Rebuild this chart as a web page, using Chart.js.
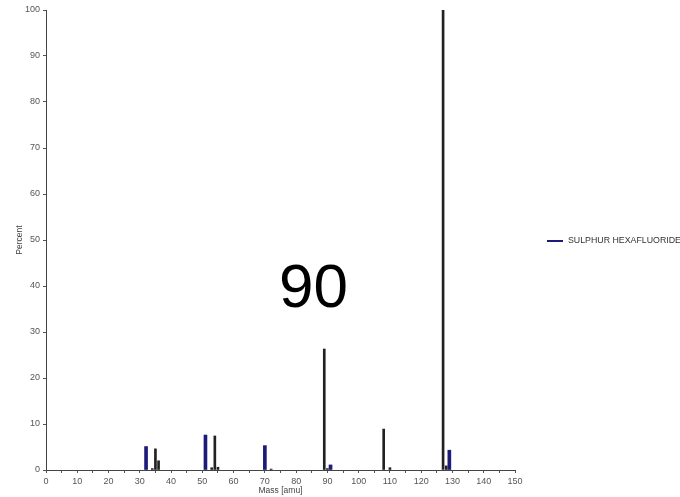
<!DOCTYPE html>
<html>
<head>
<meta charset="utf-8">
<script src="https://cdn.jsdelivr.net/npm/chart.js@4/dist/chart.umd.min.js"></script>
<style>
  html, body { margin: 0; padding: 0; background: #fff; }
  #wrap { position: relative; width: 680px; height: 497px; }
  #legend { position: absolute; left: 547px; top: 235px; font: 8.8px "Liberation Sans", Arial, sans-serif; color: #333; white-space: nowrap; }
  #legend span.sw { display: inline-block; width: 16px; height: 2px; background: #1c1c78; vertical-align: middle; margin-right: 5px; }
  #big { position: absolute; left: 279px; top: 250px; font: 62px "Liberation Sans", Arial, sans-serif; color: #000; }
</style>
</head>
<body>
<div id="wrap">
  <canvas id="chart" width="680" height="497"></canvas>
  <div id="legend"><span class="sw"></span>SULPHUR HEXAFLUORIDE</div>
  <div id="big">90</div>
</div>
<script>
// Данные спектра
const blueMass = [32, 51, 70, 91, 129];
const blueValues = [5.1, 7.6, 5.3, 1.1, 4.3];
const darkMass = [34, 35, 36, 53, 54, 55, 72, 89, 90, 108, 110, 127, 128];
const darkValues = [0.3, 4.6, 2.0, 0.5, 7.4, 0.6, 0.2, 26.3, 0.3, 8.9, 0.5, 100, 0.9];
const xTicks = [0, 10, 20, 30, 40, 50, 60, 70, 80, 90, 100, 110, 120, 130, 140, 150];
const yTicks = [0, 10, 20, 30, 40, 50, 60, 70, 80, 90, 100];

function points(xs, ys) {
    return xs.map((x, i) => ({ x: x, y: ys[i] }));
}

const tickFont = { family: 'Liberation Sans, Arial, sans-serif', size: 9 };
const titleFont = { family: 'Liberation Sans, Arial, sans-serif', size: 8.5 };

new Chart(document.getElementById('chart'), {
    type: 'bar',
    data: {
        datasets: [{
            label: 'SULPHUR HEXAFLUORIDE',
            data: points(blueMass, blueValues),
            backgroundColor: '#1c1c78',
            barThickness: 3,
            grouped: false
        }, {
            label: 'other',
            data: points(darkMass, darkValues),
            backgroundColor: '#222222',
            barThickness: 2,
            grouped: false
        }]
    },
    options: {
        responsive: false,
        animation: false,
        layout: { padding: { top: 10, right: 165, left: 0, bottom: 0 } },
        plugins: {
            legend: { display: false },
            tooltip: { enabled: false }
        },
        scales: {
            x: {
                type: 'linear',
                offset: false,
                min: 0,
                max: 150,
                afterFit: s => { s.height = 27; },
                afterBuildTicks: s => {
                    const t = [];
                    for (let v = 0; v <= 150; v += 5) t.push({ value: v });
                    s.ticks = t;
                },
                ticks: {
                    autoSkip: false,
                    maxRotation: 0,
                    padding: 3,
                    color: '#555',
                    font: tickFont,
                    callback: v => (xTicks.includes(v) ? v : '')
                },
                grid: { offset: false, drawOnChartArea: false, drawTicks: true, tickLength: 3, color: '#555' },
                border: { color: '#444', width: 1 },
                title: { display: true, text: 'Mass [amu]', color: '#444', font: titleFont, padding: { top: 0, bottom: 1 } }
            },
            y: {
                min: 0,
                max: 100,
                afterFit: s => { s.width = 46; },
                afterBuildTicks: s => { s.ticks = yTicks.map(v => ({ value: v })); },
                ticks: { color: '#555', font: tickFont, padding: 3 },
                grid: { drawOnChartArea: false, drawTicks: true, tickLength: 3, color: '#555' },
                border: { color: '#444', width: 1 },
                title: { display: true, text: 'Percent', color: '#444', font: titleFont, padding: { top: 15, bottom: 0 } }
            }
        }
    }
});
</script>
</body>
</html>
